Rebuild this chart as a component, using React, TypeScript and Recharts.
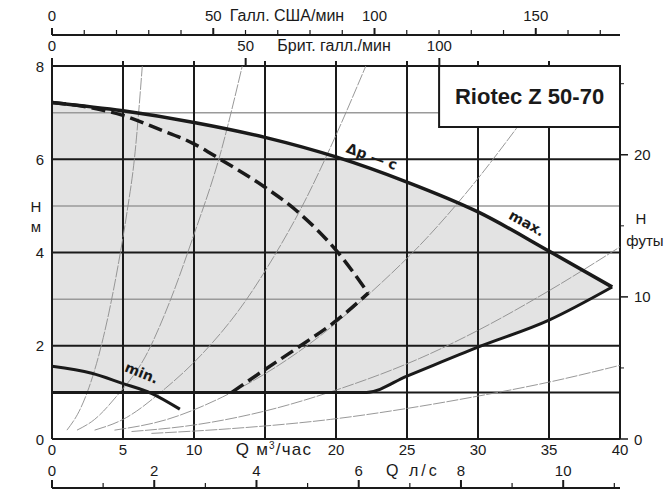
import React from "react";
import {
  ComposedChart,
  XAxis,
  YAxis,
  Line,
  Area,
  ReferenceLine,
  ReferenceArea,
  ReferenceDot,
} from "recharts";

// ---------------- data ----------------
const Q_TICKS = [0, 5, 10, 15, 20, 25, 30, 35, 40];
const H_TICKS = [0, 2, 4, 6, 8];
const H_GRID_MAJOR = [0, 1, 2, 4, 6, 8];
const H_GRID_MINOR = [3, 5, 7];
const LS_TICKS = [0, 1, 2, 3, 4, 5, 6, 7, 8, 9, 10, 11];
const LS_LABELS = [0, 2, 4, 6, 8, 10];
const US_TICKS = [0, 10, 20, 30, 40, 50, 60, 70, 80, 90, 100, 110, 120, 130, 140, 150, 160, 170];
const US_LABELS = [0, 50, 100, 150];
const BRIT_LABELS = [0, 50, 100];
const FT_TICKS = [0, 5, 10, 15, 20, 25];
const FT_LABELS = [0, 10, 20];

const Q_MAX = 40;
const H_MAX = 8;
const M3H_TO_LS = 1 / 3.6;
const M3H_TO_US = 4.4029;
const M3H_TO_BRIT = 3.6662;
const M_TO_FT = 3.28084;

// max speed curve
const MAX_Q = [0, 5, 10, 15, 20, 25, 30, 35, 39.45];
const MAX_H = [7.22, 7.04, 6.79, 6.47, 6.05, 5.51, 4.87, 4.03, 3.26];
// lower boundary of the working field
const LOW_Q = [0, 22.15, 25, 30, 35, 39.45];
const LOW_H = [1.0, 1.0, 1.35, 1.97, 2.55, 3.26];
// shaded field
const FIELD_Q = [0, 5, 10, 15, 20, 22.15, 25, 30, 35, 39.45];
const FIELD_TOP = [7.22, 7.04, 6.79, 6.47, 6.05, 5.83, 5.51, 4.87, 4.03, 3.26];
const FIELD_BOTTOM = [1, 1, 1, 1, 1, 1, 1.35, 1.97, 2.55, 3.26];
// dp-c dashed curve
const DP_UP_Q = [0, 2.5, 5, 7.4, 10, 11.84, 15, 17.2, 20, 22.27];
const DP_UP_H = [7.22, 7.12, 6.94, 6.66, 6.33, 6.0, 5.4, 4.9, 4.05, 3.13];
const DP_LO_Q = [12.66, 14.9, 17.5, 19.9, 22.27];
const DP_LO_H = [1.0, 1.47, 2.0, 2.51, 3.13];
// min speed curve
const MIN_Q = [0, 2.8, 4.9, 7.0, 9.0];
const MIN_H = [1.56, 1.41, 1.2, 0.98, 0.64];

// system curves [Q, H]
const SYS_1: [number, number][] = [[1.05, 0.19], [2, 0.65], [2.6, 1.1], [3.3, 1.8], [4.0, 2.7], [4.7, 3.8], [5.3, 4.9], [5.8, 6.0], [6.36, 8.0]];
const SYS_2: [number, number][] = [[1.76, 0.19], [3.0, 0.42], [4.5, 0.9], [6.56, 1.76], [8.3, 2.95], [9.9, 4.3], [11.84, 6.1], [13.4, 8.0]];
const SYS_3: [number, number][] = [[3.0, 0.19], [5.0, 0.42], [8.0, 1.09], [10.5, 1.8], [13.6, 2.95], [15.6, 3.9], [17.8, 5.1], [19.9, 6.45], [22.1, 8.0]];
const SYS_4: [number, number][] = [[4.4, 0.19], [8, 0.41], [12, 0.9], [16, 1.59], [19, 2.24], [22.3, 3.1], [26.6, 4.38], [29.5, 5.4], [32.7, 6.66], [35.9, 8.0]];
const SYS_5: [number, number][] = [[5.6, 0.16], [10, 0.3], [15, 0.6], [20.3, 1.08], [25.9, 1.73], [30, 2.33], [35, 3.18], [40, 4.12]];
const SYS_6: [number, number][] = [[7.0, 0.12], [12.5, 0.22], [19.6, 0.42], [25.9, 0.7], [30, 0.92], [35, 1.22], [40, 1.58]];
const SYSTEM_CURVES = [SYS_1, SYS_2, SYS_3, SYS_4, SYS_5, SYS_6];

// annotations (data units)
const BOX_Q0 = 27.26;
const BOX_H0 = 6.69;
const TITLE = "Riotec Z 50-70";
const CURVE_LABELS = [
  { q: 22.52, h: 6.06, text: "\u0394p \u2014 c", angle: 20 },
  { q: 33.44, h: 4.63, text: "max.", angle: 29 },
  { q: 6.31, h: 1.42, text: "min.", angle: 22 },
];

// ---------------- helpers ----------------
const FONT = "'Liberation Sans', Arial, Helvetica, sans-serif";
const INK = "#1a1a1a";

const pts = (qs: number[], hs: number[]) => qs.map((q, i) => ({ q, h: hs[i] }));
const pairs = (p: [number, number][]) => p.map(([q, h]) => ({ q, h }));
const span = (max: number) => [{ q: 0, h: 0 }, { q: max, h: 0 }];

const MAX_DATA = pts(MAX_Q, MAX_H);
const LOW_DATA = pts(LOW_Q, LOW_H);
const DP_UP_DATA = pts(DP_UP_Q, DP_UP_H);
const DP_LO_DATA = pts(DP_LO_Q, DP_LO_H);
const MIN_DATA = pts(MIN_Q, MIN_H);
const FIELD_DATA = FIELD_Q.map((q, i) => ({ q, range: [FIELD_BOTTOM[i], FIELD_TOP[i]] }));

const LS_MAX = Q_MAX * M3H_TO_LS;
const US_MAX = Q_MAX * M3H_TO_US;
const BRIT_MAX = Q_MAX * M3H_TO_BRIT;
const FT_MAX = H_MAX * M_TO_FT;

const BRIT_STUBS = Q_TICKS.filter((q) => q > 0 && q < Q_MAX).map((q) => q * M3H_TO_BRIT);
const BRIT_TICKS = [...BRIT_LABELS, ...BRIT_STUBS].sort((a, b) => a - b);

// ---------------- tick renderers ----------------
function M3Tick({ x, y, payload }: any) {
  const v = payload.value;
  if (v === 15) {
    return (
      <text x={x + 9} y={y + 16} textAnchor="middle" fontSize={17} letterSpacing={1.2} fontFamily={FONT} fill={INK}>
        Q м<tspan dy={-6} fontSize={10}>3</tspan>
        <tspan dy={6}>/час</tspan>
      </text>
    );
  }
  return (
    <text x={x} y={y + 16} textAnchor="middle" fontSize={15} fontFamily={FONT} fill={INK}>
      {v}
    </text>
  );
}

function LsTick({ x, y, payload }: any) {
  const v = payload.value;
  const major = LS_LABELS.includes(v);
  return (
    <g>
      <line x1={x} x2={x} y1={y} y2={y - (major ? 8 : 5)} stroke={INK} strokeWidth={major ? 2 : 1.2} />
      {v === 7 ? (
        <text x={x + 3} y={y - 12} textAnchor="middle" fontSize={16} letterSpacing={3} fontFamily={FONT} fill={INK}>
          Q л/с
        </text>
      ) : major ? (
        <text x={x} y={y - 12} textAnchor="middle" fontSize={15} fontFamily={FONT} fill={INK}>
          {v}
        </text>
      ) : null}
    </g>
  );
}

function UsTick({ x, y, payload }: any) {
  const v = payload.value;
  const major = US_LABELS.includes(v);
  return (
    <g>
      <line x1={x} x2={x} y1={y} y2={y - (major ? 7 : 5)} stroke={INK} strokeWidth={major ? 2 : 1.2} />
      {major && (
        <text x={x} y={y - 14} textAnchor="middle" fontSize={15} fontFamily={FONT} fill={INK}>
          {v}
        </text>
      )}
    </g>
  );
}

function BritTick({ x, y, payload }: any) {
  const v = payload.value;
  const major = BRIT_LABELS.includes(v);
  return (
    <g>
      <line x1={x} x2={x} y1={y} y2={y - (major ? 8 : 5)} stroke={INK} strokeWidth={2} />
      {major && (
        <text x={x} y={y - 15} textAnchor="middle" fontSize={15} fontFamily={FONT} fill={INK}>
          {v}
        </text>
      )}
    </g>
  );
}

function HTick({ x, y, payload }: any) {
  return (
    <text x={x - 8} y={y + 5.5} textAnchor="end" fontSize={15} fontFamily={FONT} fill={INK}>
      {payload.value}
    </text>
  );
}

function FtTick({ x, y, payload }: any) {
  const v = payload.value;
  const lab = FT_LABELS.includes(v);
  return (
    <g>
      <line x1={x} x2={x + (lab ? 8 : 4)} y1={y} y2={y} stroke={INK} strokeWidth={lab ? 1.5 : 1} />
      {lab && (
        <text x={x + 14} y={y + 5.5} textAnchor="start" fontSize={15} fontFamily={FONT} fill={INK}>
          {v}
        </text>
      )}
    </g>
  );
}

function AxisTitle(props: any) {
  const { viewBox, lines } = props;
  const vx = viewBox?.x ?? 0;
  const vy = viewBox?.y ?? 0;
  return (
    <g>
      {lines.map((l: any, i: number) => (
        <text
          key={i}
          x={vx + l.dx}
          y={vy + l.dy}
          textAnchor="middle"
          fontSize={l.size || 15}
          fontFamily={FONT}
          fill={INK}
        >
          {l.t}
        </text>
      ))}
    </g>
  );
}

function CurveText(props: any) {
  const { cx, cy, text, angle } = props;
  return (
    <text
      x={cx}
      y={cy}
      transform={`rotate(${angle} ${cx} ${cy})`}
      textAnchor="middle"
      dominantBaseline="central"
      fontSize={14}
      fontWeight="bold"
      fontFamily="'DejaVu Sans', Verdana, sans-serif"
      fill={INK}
    >
      {text}
    </text>
  );
}

const hidden = {
  dataKey: "h",
  stroke: "transparent",
  dot: false,
  activeDot: false,
  isAnimationActive: false,
  legendType: "none",
} as const;

export default function App() {
  const common = { xAxisId: "a_m3", yAxisId: "m" } as const;
  return (
    <div style={{ position: "absolute", left: 0, top: 0, background: "#fff" }}>
      <ComposedChart width={667} height={491} margin={{ top: 0, right: 0, bottom: 0, left: 0 }}>
        <XAxis
          xAxisId="a_m3"
          dataKey="q"
          type="number"
          orientation="bottom"
          domain={[0, Q_MAX]}
          ticks={Q_TICKS}
          interval={0}
          height={49}
          axisLine={false}
          tickLine={false}
          tickSize={0}
          tickMargin={0}
          allowDataOverflow
          tick={(p: any) => <M3Tick {...p} />}
        />
        <XAxis
          xAxisId="b_ls"
          dataKey="q"
          type="number"
          orientation="bottom"
          domain={[0, LS_MAX]}
          ticks={LS_TICKS}
          interval={0}
          height={3}
          axisLine={{ stroke: INK, strokeWidth: 2 }}
          tickLine={false}
          tickSize={0}
          tickMargin={0}
          allowDataOverflow
          tick={(p: any) => <LsTick {...p} />}
        />
        <XAxis
          xAxisId="a_brit"
          dataKey="q"
          type="number"
          orientation="top"
          domain={[0, BRIT_MAX]}
          ticks={BRIT_TICKS}
          interval={0}
          height={31}
          axisLine={false}
          tickLine={false}
          tickSize={0}
          tickMargin={0}
          allowDataOverflow
          tick={(p: any) => <BritTick {...p} />}
          label={<AxisTitle lines={[{ t: "Брит. галл./мин", dx: 282, dy: 16, size: 16 }]} />}
        />
        <XAxis
          xAxisId="b_us"
          dataKey="q"
          type="number"
          orientation="top"
          domain={[0, US_MAX]}
          ticks={US_TICKS}
          interval={0}
          height={35}
          axisLine={{ stroke: INK, strokeWidth: 2 }}
          tickLine={false}
          tickSize={0}
          tickMargin={0}
          allowDataOverflow
          tick={(p: any) => <UsTick {...p} />}
          label={<AxisTitle lines={[{ t: "Галл. США/мин", dx: 235, dy: 21, size: 16 }]} />}
        />
        <YAxis
          yAxisId="m"
          type="number"
          orientation="left"
          domain={[0, H_MAX]}
          ticks={H_TICKS}
          interval={0}
          width={52}
          axisLine={false}
          tickLine={false}
          tickSize={0}
          tickMargin={0}
          allowDataOverflow
          tick={(p: any) => <HTick {...p} />}
          label={
            <AxisTitle
              lines={[
                { t: "Н", dx: 36, dy: 146 },
                { t: "м", dx: 36, dy: 166 },
              ]}
            />
          }
        />
        <YAxis
          yAxisId="ft"
          type="number"
          orientation="right"
          domain={[0, FT_MAX]}
          ticks={FT_TICKS}
          interval={0}
          width={47}
          axisLine={false}
          tickLine={false}
          tickSize={0}
          tickMargin={0}
          allowDataOverflow
          tick={(p: any) => <FtTick {...p} />}
          label={
            <AxisTitle
              lines={[
                { t: "Н", dx: 21, dy: 158 },
                { t: "футы", dx: 25, dy: 180 },
              ]}
            />
          }
        />

        {/* invisible spans so the secondary unit axes get a domain */}
        <Line xAxisId="b_ls" yAxisId="m" data={span(LS_MAX)} {...hidden} />
        <Line xAxisId="a_brit" yAxisId="m" data={span(BRIT_MAX)} {...hidden} />
        <Line xAxisId="b_us" yAxisId="m" data={span(US_MAX)} {...hidden} />

        <Area
          {...common}
          data={FIELD_DATA}
          dataKey="range"
          type="monotone"
          stroke="none"
          fill="#e3e3e3"
          fillOpacity={1}
          isAnimationActive={false}
          activeDot={false}
          zIndex={10}
        />

        {H_GRID_MINOR.map((h) => (
          <ReferenceLine key={"hm" + h} {...common} y={h} stroke="#9a9a9a" strokeWidth={1.5} zIndex={20} />
        ))}
        {H_GRID_MAJOR.map((h) => (
          <ReferenceLine key={"hM" + h} {...common} y={h} stroke={INK} strokeWidth={2} zIndex={21} />
        ))}
        {Q_TICKS.map((q) => (
          <ReferenceLine key={"v" + q} {...common} x={q} stroke={INK} strokeWidth={2} zIndex={21} />
        ))}

        {SYSTEM_CURVES.map((c, i) => (
          <Line
            key={"sys" + i}
            {...common}
            data={pairs(c)}
            dataKey="h"
            type="monotone"
            stroke="#8c8c8c"
            strokeWidth={0.9}
            strokeDasharray="12 1.5"
            dot={false}
            activeDot={false}
            isAnimationActive={false}
            zIndex={30}
          />
        ))}

        <Line {...common} data={LOW_DATA} dataKey="h" type="monotone" stroke={INK} strokeWidth={3} dot={false} activeDot={false} isAnimationActive={false} zIndex={40} />
        <Line {...common} data={MAX_DATA} dataKey="h" type="monotone" stroke={INK} strokeWidth={3.5} dot={false} activeDot={false} isAnimationActive={false} zIndex={40} />
        <Line {...common} data={DP_UP_DATA} dataKey="h" type="monotone" stroke={INK} strokeWidth={3.5} strokeDasharray="14 6" dot={false} activeDot={false} isAnimationActive={false} zIndex={40} />
        <Line {...common} data={DP_LO_DATA} dataKey="h" type="monotone" stroke={INK} strokeWidth={3.5} strokeDasharray="14 6" dot={false} activeDot={false} isAnimationActive={false} zIndex={40} />
        <Line {...common} data={MIN_DATA} dataKey="h" type="monotone" stroke={INK} strokeWidth={3} dot={false} activeDot={false} isAnimationActive={false} zIndex={40} />

        <ReferenceArea
          {...common}
          x1={BOX_Q0}
          x2={Q_MAX}
          y1={BOX_H0}
          y2={H_MAX}
          fill="#ffffff"
          fillOpacity={1}
          stroke={INK}
          strokeWidth={2}
          zIndex={50}
          label={{ value: TITLE, position: "center", fontSize: 22, fontWeight: "bold", fill: INK, fontFamily: FONT }}
        />

        {CURVE_LABELS.map((l, i) => (
          <ReferenceDot
            key={"cl" + i}
            {...common}
            x={l.q}
            y={l.h}
            r={0}
            zIndex={60}
            shape={(p: any) => <CurveText {...p} text={l.text} angle={l.angle} />}
          />
        ))}
      </ComposedChart>
    </div>
  );
}
